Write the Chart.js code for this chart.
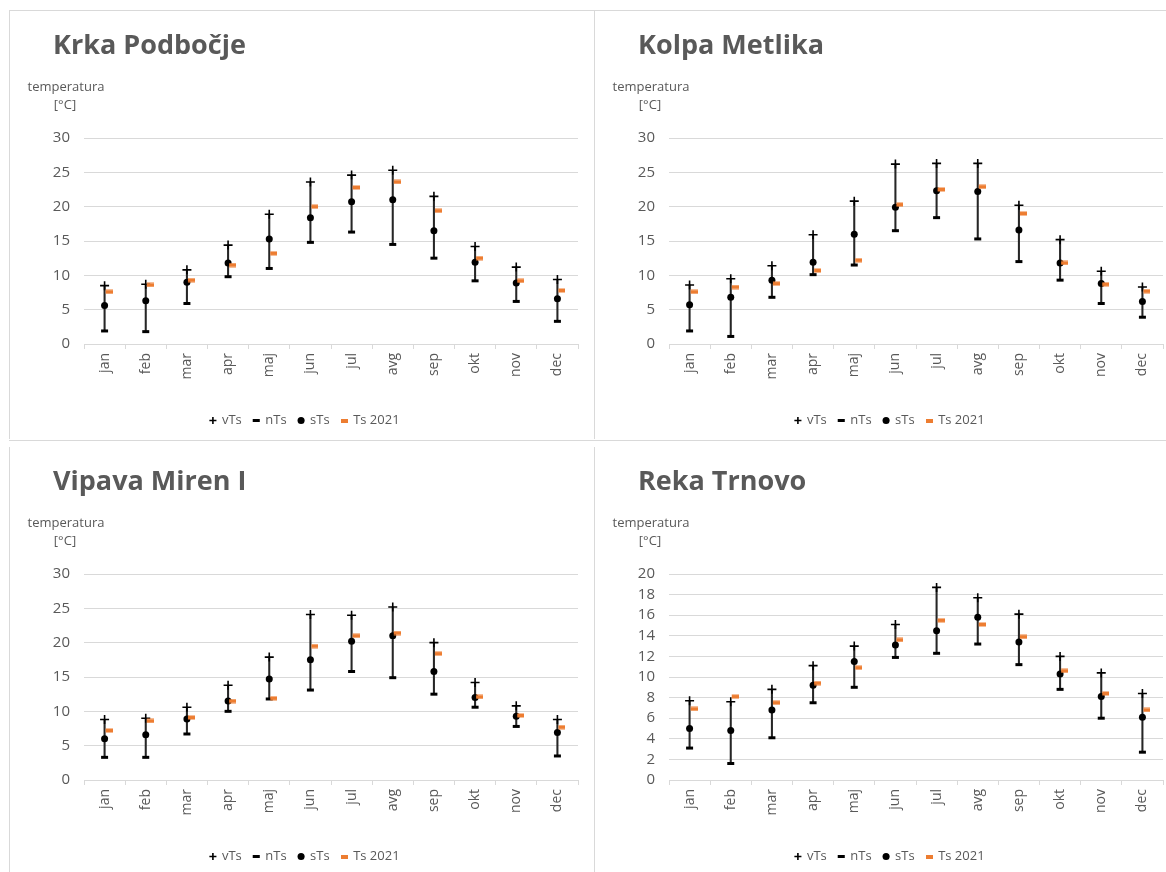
<!DOCTYPE html>
<html>
<head>
<meta charset="utf-8">
<script src="https://cdn.jsdelivr.net/npm/chart.js@4/dist/chart.umd.min.js"></script>
<style>
  body { margin: 0; width: 1166px; height: 872px; overflow: hidden; background: #fff; }
  canvas { position: absolute; }
  .rule { position: absolute; background: #d9d9d9; }
</style>
</head>
<body>
<div class="rule" style="left:9px;top:10px;width:1157px;height:1px"></div>
<div class="rule" style="left:9px;top:440px;width:1157px;height:1px"></div>
<div class="rule" style="left:9px;top:10px;width:1px;height:429px"></div>
<div class="rule" style="left:594px;top:10px;width:1px;height:429px"></div>
<div class="rule" style="left:9px;top:447px;width:1px;height:425px"></div>
<div class="rule" style="left:594px;top:447px;width:1px;height:425px"></div>

<canvas id="krka" width="585" height="431" style="left:9px;top:10px"></canvas>
<canvas id="kolpa" width="585" height="431" style="left:594px;top:10px"></canvas>
<canvas id="vipava" width="585" height="431" style="left:9px;top:446px"></canvas>
<canvas id="reka" width="585" height="431" style="left:594px;top:446px"></canvas>

<script>
const months = ["jan", "feb", "mar", "apr", "maj", "jun", "jul", "avg", "sep", "okt", "nov", "dec"];

// Krka Podbočje
const krkaMax = [8.5, 8.7, 10.8, 14.4, 18.9, 23.6, 24.6, 25.3, 21.5, 14.2, 11.2, 9.4];
const krkaMin = [1.9, 1.8, 5.9, 9.8, 11.0, 14.8, 16.3, 14.5, 12.5, 9.2, 6.2, 3.3];
const krkaMean = [5.6, 6.3, 9.0, 11.8, 15.3, 18.4, 20.7, 21.0, 16.5, 11.9, 8.9, 6.6];
const krka2021 = [7.6, 8.6, 9.3, 11.5, 13.2, 20.0, 22.8, 23.6, 19.4, 12.5, 9.2, 7.8];

// Kolpa Metlika
const kolpaMax = [8.6, 9.5, 11.4, 15.9, 20.8, 26.2, 26.3, 26.3, 20.2, 15.2, 10.6, 8.3];
const kolpaMin = [1.9, 1.1, 6.8, 10.1, 11.5, 16.5, 18.4, 15.3, 12.0, 9.3, 5.9, 3.9];
const kolpaMean = [5.7, 6.8, 9.3, 11.9, 16.0, 19.9, 22.3, 22.2, 16.6, 11.8, 8.8, 6.2];
const kolpa2021 = [7.6, 8.3, 8.8, 10.7, 12.2, 20.3, 22.5, 22.9, 19.0, 11.8, 8.7, 7.7];

// Vipava Miren I
const vipavaMax = [8.8, 9.0, 10.6, 13.8, 17.9, 24.1, 24.0, 25.2, 20.0, 14.2, 10.8, 8.8];
const vipavaMin = [3.3, 3.3, 6.7, 10.0, 11.8, 13.1, 15.8, 14.9, 12.5, 10.6, 7.8, 3.5];
const vipavaMean = [6.0, 6.6, 8.9, 11.5, 14.7, 17.5, 20.2, 21.0, 15.8, 12.0, 9.3, 6.9];
const vipava2021 = [7.2, 8.6, 9.1, 11.5, 11.9, 19.5, 21.0, 21.4, 18.4, 12.1, 9.4, 7.7];

// Reka Trnovo
const rekaMax = [7.7, 7.6, 8.8, 11.1, 13.0, 15.1, 18.7, 17.7, 16.1, 12.0, 10.4, 8.4];
const rekaMin = [3.1, 1.6, 4.1, 7.5, 9.0, 11.9, 12.3, 13.2, 11.2, 8.8, 6.0, 2.7];
const rekaMean = [5.0, 4.8, 6.8, 9.2, 11.5, 13.1, 14.5, 15.8, 13.4, 10.3, 8.1, 6.1];
const reka2021 = [6.9, 8.1, 7.5, 9.4, 10.9, 13.6, 15.5, 15.1, 13.9, 10.6, 8.4, 6.8];

const textColor = "#595959";
const gridColor = "#d9d9d9";
const orange = "#ed7d31";
Chart.defaults.font.family = "'Open Sans', 'Noto Sans', sans-serif";

// orange dash sits just right of the whisker
const dash2021 = document.createElement("canvas");
dash2021.width = 16;
dash2021.height = 5;
(function () {
	const c = dash2021.getContext("2d");
	c.fillStyle = orange;
	c.fillRect(9, 0.5, 7, 4);
})();

// same dash, centred, for the legend
const legendDash = document.createElement("canvas");
legendDash.width = 7;
legendDash.height = 4;
(function () {
	const c = legendDash.getContext("2d");
	c.fillStyle = orange;
	c.fillRect(0, 0, 7, 4);
})();

// station name and axis unit in the top left corner
const panelText = {
	id: "panelText",
	afterDraw(chart, args, opts) {
		const ctx = chart.ctx;
		ctx.save();
		ctx.fillStyle = textColor;
		ctx.textBaseline = "middle";
		ctx.textAlign = "left";
		ctx.font = "bold 27px 'Open Sans', sans-serif";
		ctx.fillText(opts.title, 44, 36);
		ctx.textAlign = "center";
		ctx.font = "13px 'Open Sans', sans-serif";
		ctx.fillText("temperatura", 57, 77);
		ctx.fillText("[°C]", 56, 95);
		ctx.restore();
	},
};

function stationChart(id, title, maxData, minData, meanData, data2021, yMax, yStep) {
	const range = minData.map((v, i) => [v, maxData[i]]);
	return new Chart(document.getElementById(id), {
		type: "bar",
		data: {
			labels: months,
			datasets: [
				{
					label: "",
					data: range,
					backgroundColor: "#262626",
					barThickness: 1.4,
					order: 10,
				},
				{
					type: "line",
					label: "vTs",
					data: maxData,
					showLine: false,
					pointStyle: "cross",
					pointRadius: 4.5,
					borderColor: "#000",
					borderWidth: 1.6,
					order: 4,
				},
				{
					type: "line",
					label: "nTs",
					data: minData,
					showLine: false,
					pointStyle: "line",
					pointRadius: 3.5,
					borderColor: "#000",
					borderWidth: 3,
					order: 3,
				},
				{
					type: "line",
					label: "sTs",
					data: meanData,
					showLine: false,
					pointStyle: "circle",
					pointRadius: 3.5,
					backgroundColor: "#000",
					borderColor: "#000",
					borderWidth: 0,
					order: 2,
				},
				{
					type: "line",
					label: "Ts 2021",
					data: data2021,
					showLine: false,
					pointStyle: dash2021,
					backgroundColor: orange,
					borderColor: orange,
					order: 1,
				},
			],
		},
		options: {
			responsive: false,
			animation: false,
			layout: { padding: { top: 128, right: 16, left: 23, bottom: 4 } },
			plugins: {
				legend: {
					position: "bottom",
					labels: {
						usePointStyle: true,
						generateLabels(chart) {
							const items = Chart.defaults.plugins.legend.labels.generateLabels(chart);
							return items.map((item) => {
								if (item.text === "Ts 2021") item.pointStyle = legendDash;
								return item;
							});
						},
						filter: (item) => item.text !== "",
						sort: (a, b) => a.datasetIndex - b.datasetIndex,
						color: textColor,
						font: { size: 13 },
						boxWidth: 5,
						boxHeight: 5,
						padding: 12,
					},
				},
				tooltip: { enabled: false },
				panelText: { title: title },
			},
			scales: {
				x: {
					grid: { drawOnChartArea: false, drawTicks: true, tickLength: 5, color: gridColor },
					border: { color: gridColor },
					ticks: { minRotation: 90, maxRotation: 90, color: textColor, font: { size: 14 }, padding: 4 },
					afterFit(scale) {
						scale.height = 58;
					},
				},
				y: {
					min: 0,
					max: yMax,
					ticks: { stepSize: yStep, autoSkip: false, color: textColor, font: { size: 15 }, padding: 14 },
					grid: { color: gridColor, drawTicks: false },
					border: { display: false },
					afterFit(scale) {
						scale.width = 52;
					},
				},
			},
		},
		plugins: [panelText],
	});
}

const krkaChart = stationChart("krka", "Krka Podbočje", krkaMax, krkaMin, krkaMean, krka2021, 30, 5);
const kolpaChart = stationChart("kolpa", "Kolpa Metlika", kolpaMax, kolpaMin, kolpaMean, kolpa2021, 30, 5);
const vipavaChart = stationChart("vipava", "Vipava Miren I", vipavaMax, vipavaMin, vipavaMean, vipava2021, 30, 5);
const rekaChart = stationChart("reka", "Reka Trnovo", rekaMax, rekaMin, rekaMean, reka2021, 20, 2);
</script>
</body>
</html>
